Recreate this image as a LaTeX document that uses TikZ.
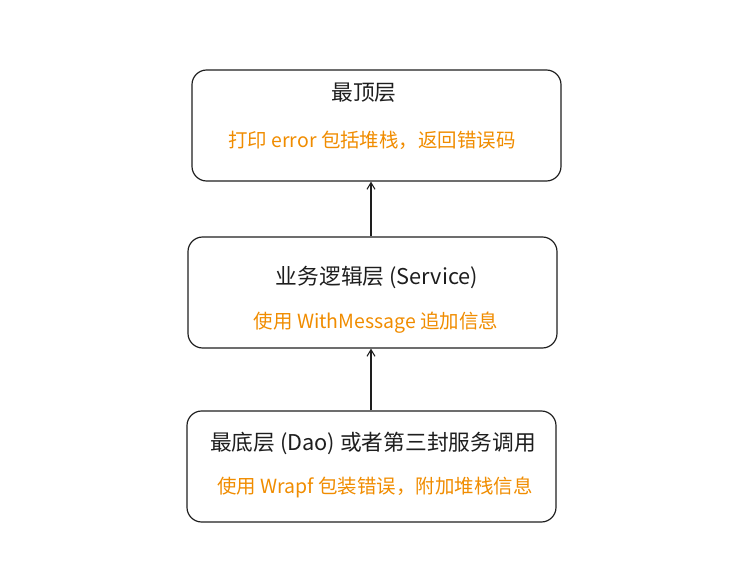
\documentclass[tikz,border=0pt]{standalone}
\usepackage{fontspec}
\setmainfont{Noto Sans CJK SC}
\usetikzlibrary{arrows.meta}
\definecolor{ink}{HTML}{1E1E1E}
\definecolor{note}{HTML}{F08C00}
\tikzset{
  layer/.style={draw=ink,line width=0.9pt,rounded corners=11pt,minimum width=276.75pt,minimum height=83.25pt},
  title/.style={text=ink,font=\fontsize{16.3}{19}\selectfont},
  hint/.style={text=note,font=\fontsize{14.6}{17}\selectfont},
  up/.style={draw=ink,line width=0.8pt,-{Straight Barb[length=5pt,width=6pt]}}
}
\begin{document}
\begin{tikzpicture}[x=0.75pt,y=-0.75pt]
        \useasboundingbox (0,0) rectangle (739,567);
        \node[layer] (top) at (376.5,125.5) {};
        \node[layer] (svc) at (372.5,292.5) {};
        \node[layer] (dao) at (371.5,466.5) {};
        \node[title] (topname) at (364,93) {最顶层};
        \node[hint] (topnote) at (372,140) {打印 error 包括堆栈，返回错误码};
        \node[title] (svcname) at (377,277) {业务逻辑层 (Service)};
        \node[hint] (svcnote) at (376,323) {使用 WithMessage 追加信息};
        \node[title] (daoname) at (373,443) {最底层 (Dao) 或者第三封服务调用};
        \node[hint] (daonote) at (375,487) {使用 Wrapf 包装错误，附加堆栈信息};
        \draw[up] (svc.north -| 371,0) -- (top.south -| 371,0);
        \draw[up] (dao.north -| 371,0) -- (svc.south -| 371,0);
\end{tikzpicture}
\end{document}
